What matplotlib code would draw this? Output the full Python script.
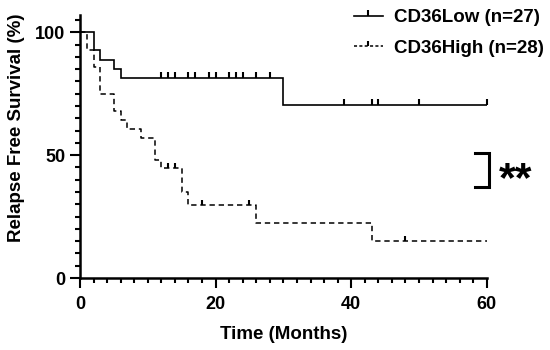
import numpy as np
import matplotlib
matplotlib.use("Agg")
import matplotlib.pyplot as plt
from matplotlib.path import Path
from matplotlib.lines import Line2D

plt.rcParams['font.family'] = ['Liberation Sans', 'DejaVu Sans']
plt.rcParams['font.weight'] = 'bold'
plt.rcParams['axes.labelweight'] = 'bold'

# Data
low_t = [0, 2, 3, 5, 6, 30, 60]
low_s = [100, 92.6, 88.9, 85.2, 81.5, 70.4, 70.4]
low_cens = [12, 13, 14, 16, 17, 19, 20, 22, 23, 24, 26, 28, 39, 43, 44, 50, 60]

high_t = [0, 1, 2, 3, 5, 6, 7, 9, 11, 12, 15, 16, 26, 43, 60]
high_s = [100, 92.9, 85.7, 75.0, 67.9, 64.3, 60.7, 57.1, 48.2, 44.6, 35.0, 29.8, 22.3, 14.9, 14.9]
high_cens = [13, 14, 18, 25, 48]

labels = ["CD36Low (n=27)", "CD36High (n=28)"]
xticks = [0, 20, 40, 60]
yticks = [0, 50, 100]


def step_at(t_arr, s_arr, times):
    idx = np.searchsorted(t_arr, times, side='right') - 1
    return np.asarray(s_arr)[idx]


tick_marker = Path([(0, 0), (0, 1)])

fig = plt.figure(figsize=(5.5, 3.5), dpi=100)
ax = fig.add_axes([0.1455, 0.2057, 0.885 - 0.1455, 0.957 - 0.2057])

ax.step(low_t, low_s, where='post', color='black', lw=1.2, solid_joinstyle='miter')
ax.plot(low_cens, step_at(low_t, low_s, low_cens), linestyle='none', marker=tick_marker,
        markersize=9, markeredgewidth=1.5, color='black', clip_on=False)

ax.step(high_t, high_s, where='post', color='black', lw=1.1, linestyle=(0, (3.5, 2.5)))
ax.plot(high_cens, step_at(high_t, high_s, high_cens), linestyle='none', marker=tick_marker,
        markersize=7, markeredgewidth=1.5, color='black', clip_on=False)

ax.set_xlim(0, 60)
ax.set_ylim(0, 107)
for s in ['top', 'right']:
    ax.spines[s].set_visible(False)
for s in ['left', 'bottom']:
    ax.spines[s].set_linewidth(1.8)

ax.set_xticks(xticks)
ax.set_xticks(np.arange(0, 61, 2), minor=True)
ax.set_yticks(yticks)
ax.set_yticks(np.arange(0, 106, 5), minor=True)
ax.tick_params(which='major', length=7, width=1.5, labelsize=13, direction='out')
ax.tick_params(axis='x', which='major', pad=6)
ax.tick_params(which='minor', length=3.5, width=1.5, direction='out')

ax.set_xlabel("Time (Months)", fontsize=13.5, labelpad=9)
ax.set_ylabel("Relapse Free Survival (%)", fontsize=13.5)
ax.yaxis.set_label_coords(-0.135, 0.57)

handles = [
    Line2D([0, 0.5, 1], [0, 0, 0], color='black', lw=1.2, marker=tick_marker, markersize=9,
           markeredgewidth=1.5, markevery=[1]),
    Line2D([0, 0.5, 1], [0, 0, 0], color='black', lw=1.1, linestyle=(0, (2, 1.5)), marker=tick_marker,
           markersize=7, markeredgewidth=1.5, markevery=[1]),
]
leg = ax.legend(handles, labels, loc='upper left', bbox_to_anchor=(345 / 550, 1 - 0 / 350),
                bbox_transform=fig.transFigure, frameon=False, fontsize=13.5,
                handlelength=1.5, handletextpad=0.6, labelspacing=0.7, borderpad=0)

# significance bracket
ax.plot([58.2, 60.4, 60.4, 58.2], [51, 51, 37, 37], color='black', lw=2.2, clip_on=False,
        solid_joinstyle='miter')
ax.text(61.8, 40, "**", fontsize=31, fontweight='bold', va='center', ha='left')

fig.savefig("out.png", dpi=100)
